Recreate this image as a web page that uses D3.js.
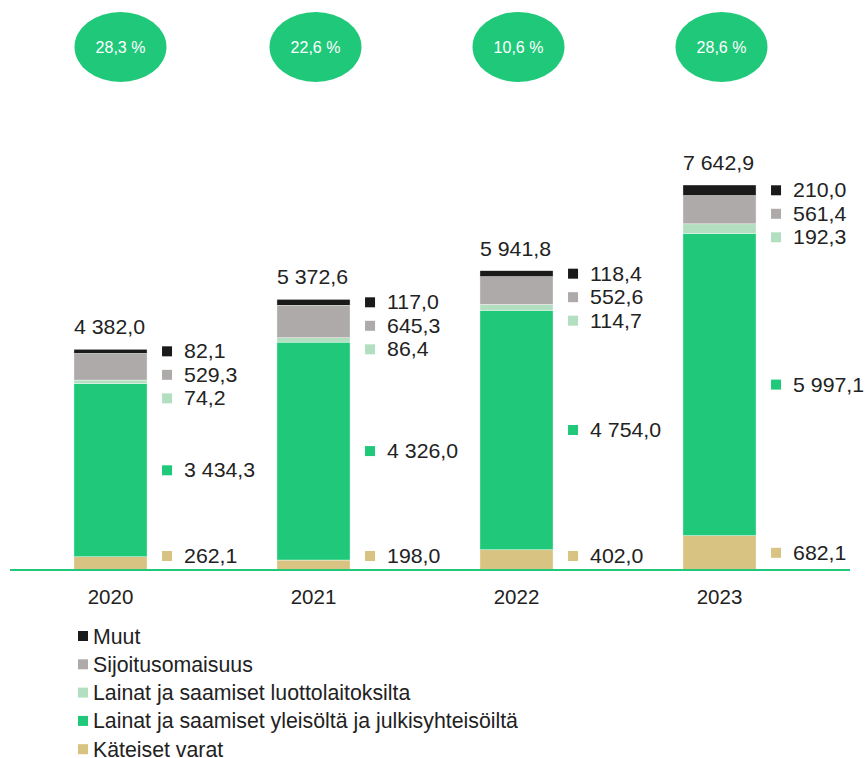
<!DOCTYPE html>
<html><head><meta charset="utf-8">
<script src="https://cdn.jsdelivr.net/npm/d3@7/dist/d3.min.js"></script>
<style>body{margin:0;background:#fff;font-family:"Liberation Sans",Arial,sans-serif;}</style>
</head><body><svg id="c" width="865" height="758"></svg>
<script>
const years = ["2020","2021","2022","2023"];
const seriesNames = ["Käteiset varat","Lainat ja saamiset yleisöltä ja julkisyhteisöiltä","Lainat ja saamiset luottolaitoksilta","Sijoitusomaisuus","Muut"];
const kateiset = [262.1,198.0,402.0,682.1];
const yleiso = [3434.3,4326.0,4754.0,5997.1];
const luotto = [74.2,86.4,114.7,192.3];
const sijoitus = [529.3,645.3,552.6,561.4];
const muut = [82.1,117.0,118.4,210.0];
const totals = [4382.0,5372.6,5941.8,7642.9];
const growth = ["28,3 %","22,6 %","10,6 %","28,6 %"];
const colors = ["#d8c382","#20c97a","#b3dfc1","#aeaaaa","#1a1a1a"];

const seriesVals = [kateiset,yleiso,luotto,sijoitus,muut];
const fmt = v => { const s = d3.format(",.1f")(v); return s.replace(/,/g," ").replace(".",","); };

const svg = d3.select("#c");
const x = d3.scaleBand().domain(years).range([9, 821]).paddingInner(0.64).paddingOuter(0.32);
const y = d3.scaleLinear().domain([0, 7642.9]).range([570, 185]);

const data = years.map((yr,i)=>{ const o={year:yr}; seriesNames.forEach((s,k)=>o[s]=seriesVals[k][i]); return o; });
const stack = d3.stack().keys(seriesNames)(data);

stack.forEach((layer,k)=>{
  svg.append("g").selectAll("rect").data(layer).join("rect")
    .attr("x", d=>x(d.data.year)).attr("width", x.bandwidth())
    .attr("y", d=>y(d[1])).attr("height", d=>y(d[0])-y(d[1]))
    .attr("fill", colors[k]).attr("stroke","#fff").attr("stroke-width",0.4);
});

// baseline
svg.append("line").attr("x1",10).attr("x2",850).attr("y1",y(0)).attr("y2",y(0))
  .attr("stroke","#20c97a").attr("stroke-width",2);

const SX = 1.065;
function label(px, py, txt, size, anchor){
  const g = svg.append("g").attr("transform",`translate(${px},${py}) scale(${SX},1)`);
  g.append("text").attr("font-size",size).attr("fill","#222").attr("text-anchor",anchor||"start").text(txt);
}

// year labels
svg.append("g").selectAll("text").data(years).join("text")
  .attr("x", d=>x(d)+x.bandwidth()/2).attr("y", 604)
  .attr("text-anchor","middle").attr("font-size",20.5).attr("fill","#222").text(d=>d);

// totals
years.forEach((yr,i)=> label(x(yr), y(totals[i])-15, fmt(totals[i]), 20));

// value labels
years.forEach((yr,i)=>{
  const cy = k => { const l = stack[k][i]; return (y(l[0])+y(l[1]))/2; };
  const pos = {};
  pos[4] = cy(4);
  pos[3] = Math.max(cy(3), pos[4]+23.5);
  pos[2] = Math.max(cy(2), pos[3]+23.5);
  pos[1] = cy(1);
  pos[0] = Math.min(cy(0), 556);
  const bx = x(yr)+x.bandwidth();
  [4,3,2,1,0].forEach(k=>{
    svg.append("rect").attr("x",bx+15).attr("y",pos[k]-5).attr("width",10).attr("height",10).attr("fill",colors[k]);
    label(bx+37, pos[k]+7, fmt(seriesVals[k][i]), 20);
  });
});

// growth ellipses
const eg = svg.append("g").selectAll("g").data(years).join("g")
  .attr("transform",(d,i)=>`translate(${x(d)+x.bandwidth()/2+(i===0?10:2)},47)`);
eg.append("ellipse").attr("rx",46).attr("ry",35).attr("fill","#20c97a");
eg.append("text").attr("text-anchor","middle").attr("y",6).attr("font-size",16).attr("fill","#fff").text((d,i)=>growth[i]);

// legend
const leg = svg.append("g").selectAll("g").data([4,3,2,1,0]).join("g")
  .attr("transform",(d,j)=>`translate(78,${636+j*28.3})`);
leg.append("rect").attr("x",0).attr("y",-5).attr("width",10).attr("height",10).attr("fill",d=>colors[d]);
leg.append("text").attr("x",15).attr("y",7.5).attr("font-size",21.3).attr("fill","#222").text(d=>seriesNames[d]);
</script></body></html>
